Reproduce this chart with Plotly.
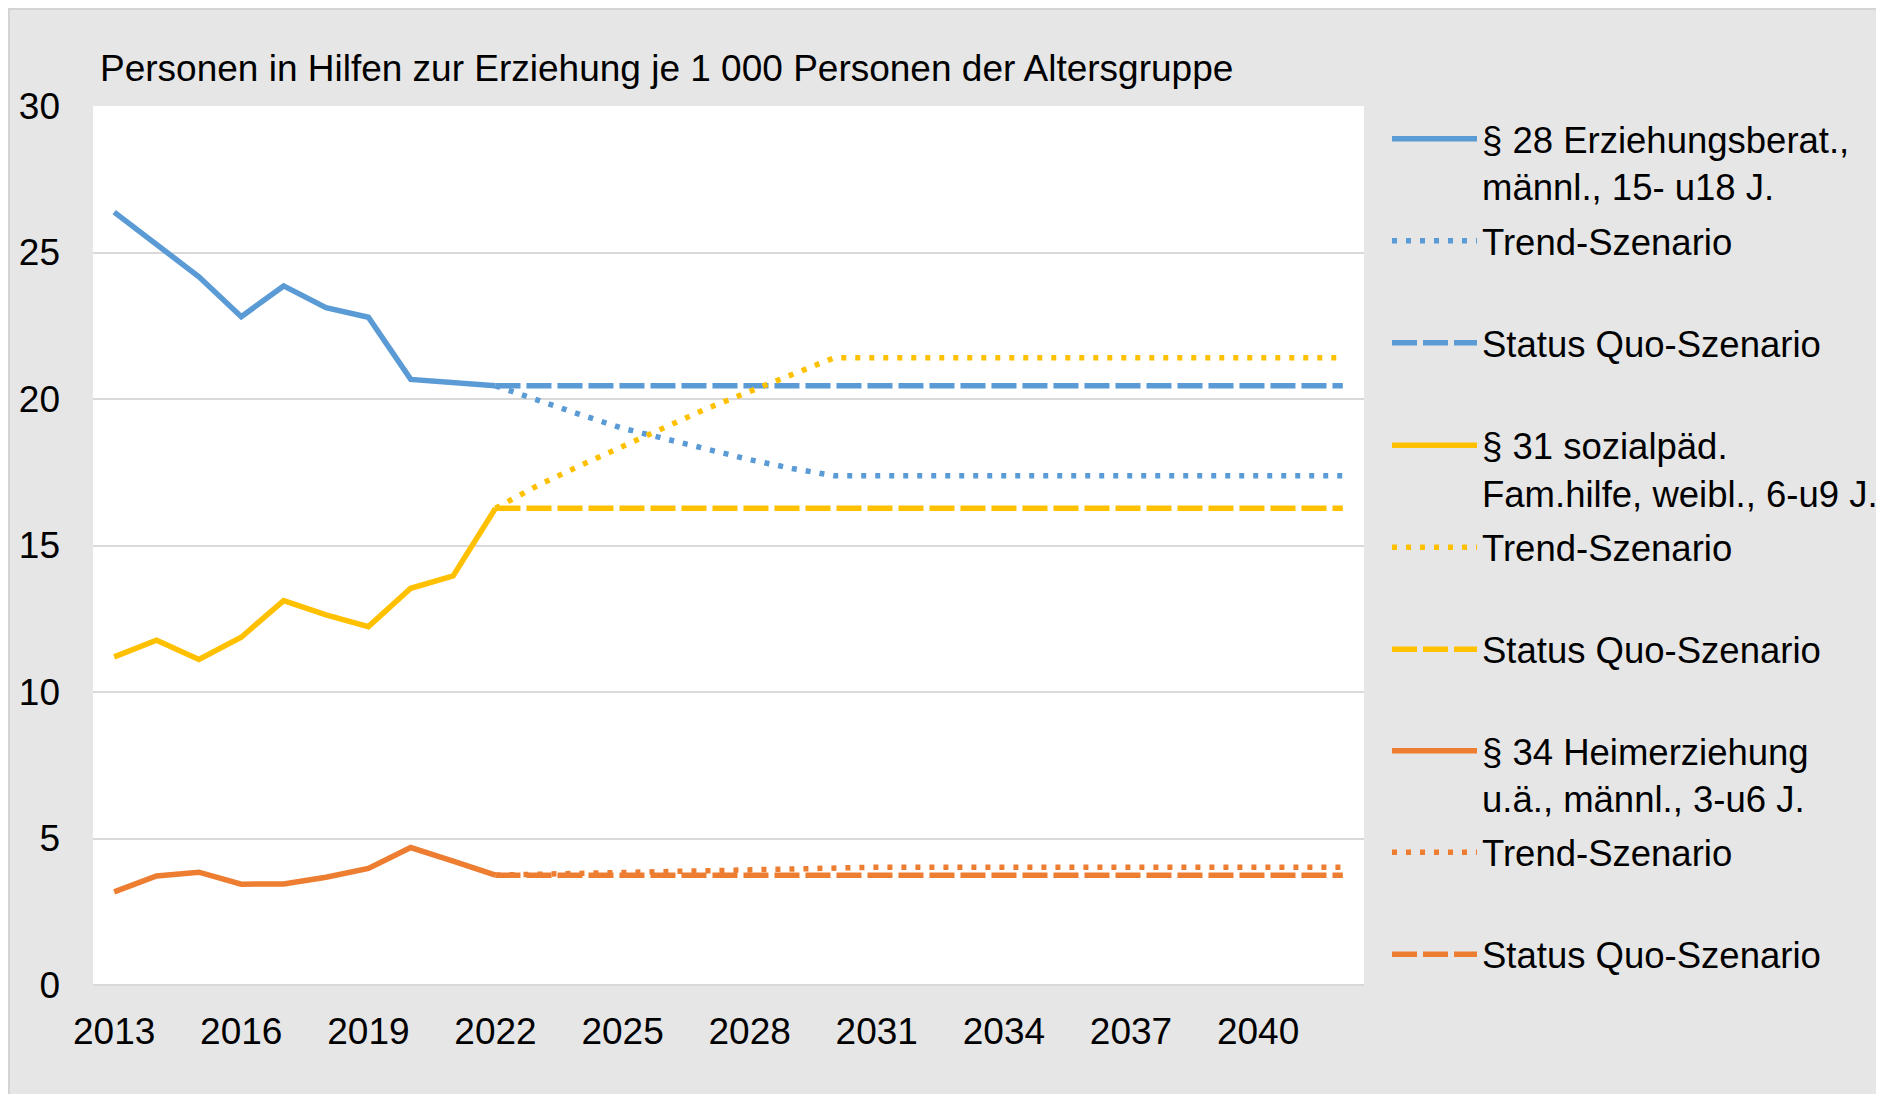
import plotly.graph_objects as go

# Jahre: Ist-Werte bis 2022, Projektion ab 2022
years_hist = [2013, 2014, 2015, 2016, 2017, 2018, 2019, 2020, 2021, 2022]
years_proj = [2022, 2023, 2024, 2025, 2026, 2027, 2028, 2029, 2030, 2031, 2032,
              2033, 2034, 2035, 2036, 2037, 2038, 2039, 2040, 2041, 2042]
x_ticks = [2013, 2016, 2019, 2022, 2025, 2028, 2031, 2034, 2037, 2040]

# § 28 Erziehungsberatung, männl., 15- u18 J.
p28_ist = [26.38, 25.26, 24.17, 22.81, 23.86, 23.12, 22.79, 20.67, 20.54, 20.45]
p28_trend = [20.45, 19.95, 19.47, 19.00, 18.63, 18.29, 17.93, 17.63, 17.38, 17.38, 17.38,
             17.38, 17.38, 17.38, 17.38, 17.38, 17.38, 17.38, 17.38, 17.38, 17.38]
p28_sq = [20.45, 20.45, 20.45, 20.45, 20.45, 20.45, 20.45, 20.45, 20.45, 20.45, 20.45,
          20.45, 20.45, 20.45, 20.45, 20.45, 20.45, 20.45, 20.45, 20.45, 20.45]

# § 31 sozialpäd. Familienhilfe, weibl., 6-u9 J.
p31_ist = [11.20, 11.77, 11.11, 11.87, 13.12, 12.63, 12.23, 13.54, 13.96, 16.27]
p31_trend = [16.27, 17.05, 17.73, 18.40, 19.03, 19.68, 20.25, 20.83, 21.41, 21.41, 21.41,
             21.41, 21.41, 21.41, 21.41, 21.41, 21.41, 21.41, 21.41, 21.41, 21.41]
p31_sq = [16.27, 16.27, 16.27, 16.27, 16.27, 16.27, 16.27, 16.27, 16.27, 16.27, 16.27,
          16.27, 16.27, 16.27, 16.27, 16.27, 16.27, 16.27, 16.27, 16.27, 16.27]

# § 34 Heimerziehung u.ä., männl., 3-u6 J.
p34_ist = [3.18, 3.72, 3.85, 3.44, 3.45, 3.68, 3.98, 4.69, 4.23, 3.75]
p34_trend = [3.75, 3.78, 3.82, 3.85, 3.89, 3.92, 3.96, 3.99, 4.02, 4.02, 4.02,
             4.02, 4.02, 4.02, 4.02, 4.02, 4.02, 4.02, 4.02, 4.02, 4.02]
p34_sq = [3.75, 3.75, 3.75, 3.75, 3.75, 3.75, 3.75, 3.75, 3.75, 3.75, 3.75,
          3.75, 3.75, 3.75, 3.75, 3.75, 3.75, 3.75, 3.75, 3.75, 3.75]

BLUE = "#5B9BD5"
YELLOW = "#FFC000"
ORANGE = "#ED7D31"
FONT = "Liberation Sans, Arial, sans-serif"
W, H = 1884, 1094
M_L, M_R, M_T, M_B = 85, 528, 98, 117

series = [
    ("§ 28 Erziehungsberat.,<br>männl., 15- u18 J.", years_hist, p28_ist, BLUE, "solid"),
    ("Trend-Szenario", years_proj, p28_trend, BLUE, "5px,9px"),
    ("Status Quo-Szenario", years_proj, p28_sq, BLUE, "25px,6px"),
    ("§ 31 sozialpäd.<br>Fam.hilfe, weibl., 6-u9 J.", years_hist, p31_ist, YELLOW, "solid"),
    ("Trend-Szenario", years_proj, p31_trend, YELLOW, "5px,9px"),
    ("Status Quo-Szenario", years_proj, p31_sq, YELLOW, "25px,6px"),
    ("§ 34 Heimerziehung<br>u.ä., männl., 3-u6 J.", years_hist, p34_ist, ORANGE, "solid"),
    ("Trend-Szenario", years_proj, p34_trend, ORANGE, "5px,9px"),
    ("Status Quo-Szenario", years_proj, p34_sq, ORANGE, "25px,6px"),
]

# Legendeneinträge wie in Excel: feste Abstände, je Eintrag eine eigene Legende
legend_sym_y = [130, 232, 334, 436.5, 538.5, 640.5, 742, 843.5, 945.5]
LEG_OFF = 29.5
LEG_X = 1379

fig = go.Figure()
layout_legends = {}
for i, (name, xs, ys, color, dash) in enumerate(series):
    key = "legend" if i == 0 else f"legend{i + 1}"
    fig.add_trace(go.Scatter(
        x=xs, y=ys, name=name, mode="lines",
        line=dict(color=color, width=5.5, dash=dash),
        legend=key,
    ))
    layout_legends[key] = dict(
        xref="container", yref="container",
        x=LEG_X / W, y=1 - (legend_sym_y[i] - LEG_OFF) / H,
        xanchor="left", yanchor="top",
        valign="top", itemwidth=85,
        bgcolor="rgba(0,0,0,0)", borderwidth=0,
        font=dict(family=FONT, size=36.5, color="black"),
    )

pw = W - M_L - M_R
ph = H - M_T - M_B

fig.update_layout(
    width=W, height=H,
    paper_bgcolor="#e6e6e6",
    plot_bgcolor="white",
    margin=dict(l=M_L, r=M_R, t=M_T, b=M_B),
    font=dict(family=FONT, size=37, color="black"),
    title=dict(
        text="Personen in Hilfen zur Erziehung je 1 000 Personen der Altersgruppe",
        x=92 / W, xanchor="left", xref="container",
        y=1 - 60 / H, yanchor="middle", yref="container",
        font=dict(family=FONT, size=37, color="black"),
    ),
    showlegend=True,
    # dünner Rahmen um die Grafik
    shapes=[dict(
        type="rect", xref="paper", yref="paper", layer="above",
        x0=-M_L / pw, x1=(pw + M_R) / pw, y0=-M_B / ph, y1=(ph + M_T) / ph,
        line=dict(color="#d4d4d4", width=4), fillcolor="rgba(0,0,0,0)",
    )],
    **layout_legends,
)

fig.update_xaxes(
    range=[2012.5, 2042.5], tickvals=x_ticks,
    showgrid=False, zeroline=False, showline=False, ticks="",
    ticklabelstandoff=21,
    tickfont=dict(family=FONT, size=37, color="black"),
)
fig.update_yaxes(
    range=[0, 30], dtick=5,
    showgrid=True, gridcolor="#d9d9d9", gridwidth=2,
    zeroline=True, zerolinecolor="#d9d9d9", zerolinewidth=2,
    showline=False, ticks="", ticklabelstandoff=32,
    tickfont=dict(family=FONT, size=37, color="black"),
)

fig.write_html("out.html")
